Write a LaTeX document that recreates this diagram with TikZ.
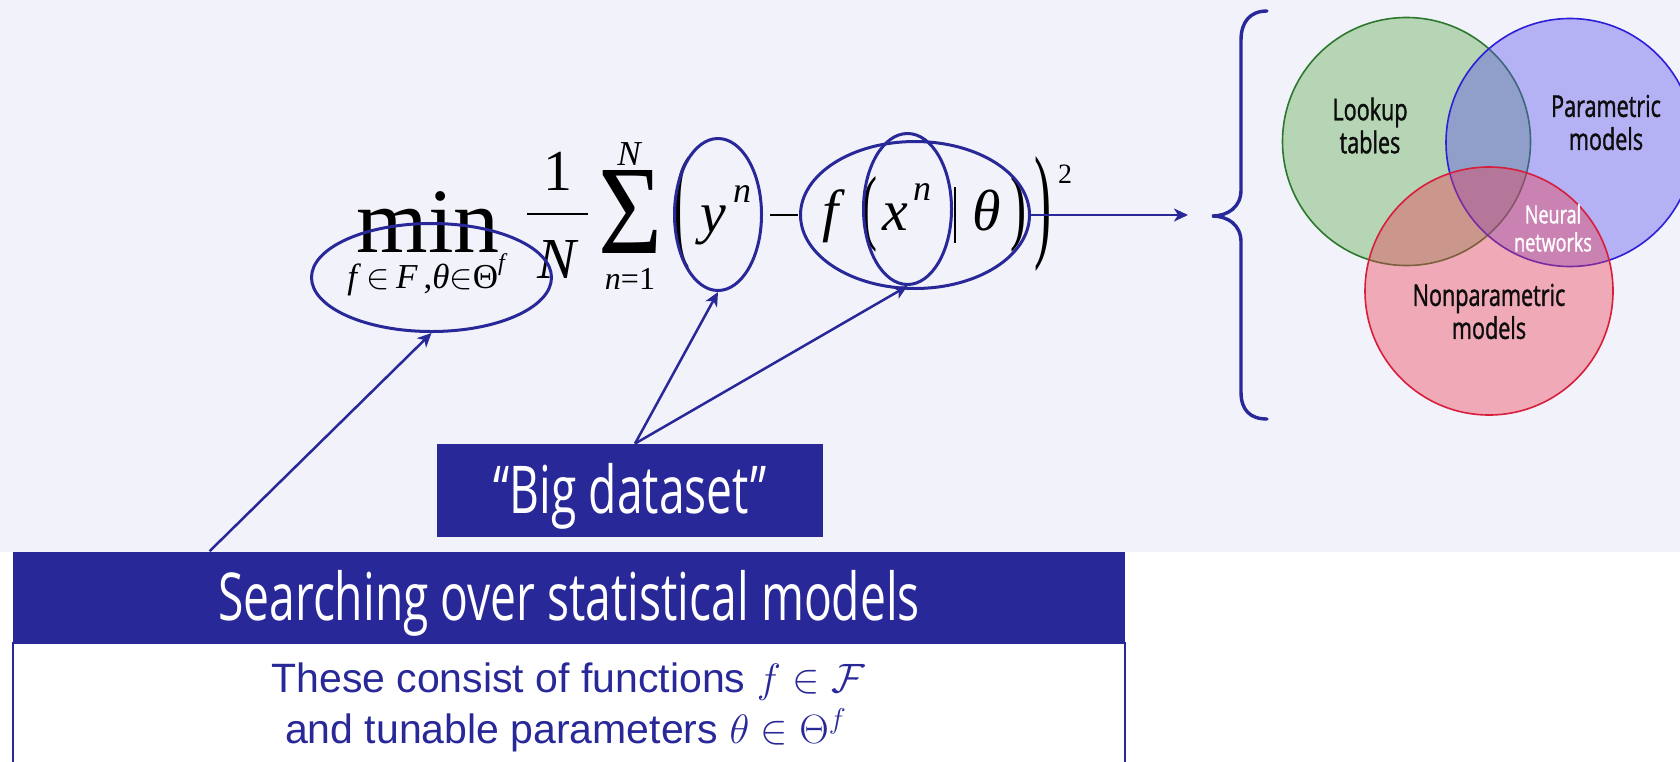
\RequirePackage{fix-cm}
\documentclass[tikz,border=0pt]{standalone}
\usepackage{graphicx}
\usepackage{fontspec}
\setmainfont{Liberation Serif}
\setsansfont{Liberation Sans}
\newfontfamily\osw[FakeStretch=0.7]{Open Sans}
\newfontfamily\oswb[FakeStretch=0.72,FakeBold=1.2]{Open Sans}
\usetikzlibrary{shapes.geometric,arrows.meta,calc}
\definecolor{dblue}{RGB}{40,40,152}
\definecolor{bgc}{RGB}{242,243,250}
\definecolor{gfill}{RGB}{90,170,75}
\definecolor{gline}{RGB}{46,120,46}
\definecolor{bfill}{RGB}{87,80,237}
\definecolor{bline}{RGB}{45,30,215}
\definecolor{rfill}{RGB}{237,60,80}
\definecolor{rline}{RGB}{215,30,60}
\tikzset{
  ring/.style={ellipse, draw=dblue, line width=1.5pt, inner sep=0pt},
  arr/.style={draw=dblue, line width=1.25pt, -{Stealth[length=7pt,width=6.5pt,inset=2pt]}},
  vc/.style={circle, minimum size=124pt, inner sep=0pt, fill opacity=0.4, line width=0.8pt},
  vtext/.style={font=\oswb\fontsize{15}{16.5}\selectfont, align=center, text=black!95},
  fm/.style={inner sep=0pt, outer sep=0pt, text=black},
  fmain/.style={fm, anchor=base, font=\rmfamily\itshape\fontsize{29}{29}\selectfont},
  fsup/.style={fm, anchor=base, font=\rmfamily\itshape\fontsize{18}{18}\selectfont},
  bluebox/.style={fill=dblue, text=white, inner sep=0pt, font=\osw\fontsize{33}{33}\selectfont},
}
\begin{document}
\begin{tikzpicture}[x=0.5pt,y=-0.5pt]
\useasboundingbox (0,0) rectangle (1680,761);
\clip (0,0) rectangle (1680,761);
\fill[white] (0,0) rectangle (1680,761);
\fill[bgc] (0,0) rectangle (1680,552);

% ---------- formula ----------
\node[fm, anchor=base, font=\rmfamily\fontsize{46}{46}\selectfont] (mn) at (428,252) {min};
\node[fm, anchor=base, font=\rmfamily\fontsize{17.5}{17.5}\selectfont] (sub) at (426,288)
  {\textit{f}\,$\in$\,\textit{F}\,,\textit{θ}$\in$Θ\raisebox{0.5em}{\fontsize{12}{12}\selectfont\itshape f}};
\node[fm, anchor=base, font=\rmfamily\fontsize{29}{29}\selectfont] (one) at (558,190) {1};
\draw[line width=1.2pt] (527,214) -- (588,214);
\node[fmain] (den) at (557,278) {N};
\node[fm] (sig) at (630,211.5) {\resizebox{32pt}{41.5pt}{\rmfamily Σ}};
\node[fm, anchor=base, font=\rmfamily\itshape\fontsize{17.5}{17.5}\selectfont] (ntop) at (629,165) {N};
\node[fm, anchor=base, font=\rmfamily\fontsize{16}{16}\selectfont] (nlow) at (630,289) {\textit{n}=1};
\node[fm] (lp1) at (682,214) {\resizebox{8.5pt}{44pt}{\rmfamily (}};
\node[fmain] (yy) at (713,232) {y};
\node[fsup] (yn) at (742,202) {n};
\draw[line width=1.2pt] (770,215) -- (798,215);
\node[fmain] (ff) at (831,230) {f};
\node[fm] (lp2) at (869,214) {\resizebox{8pt}{29pt}{\rmfamily (}};
\node[fmain] (xx) at (895,230) {x};
\node[fsup] (xn) at (922,200) {n};
\draw[line width=0.8pt] (955,187) -- (955,243);
\node[fmain] (th) at (987,230) {θ};
\node[fm] (rp2) at (1018,214) {\resizebox{8pt}{29pt}{\rmfamily )}};
\node[fm] (rp1) at (1043,214) {\resizebox{8.5pt}{44pt}{\rmfamily )}};
\node[fm, anchor=base, font=\rmfamily\fontsize{14}{14}\selectfont] (two) at (1065,183) {2};

% ---------- highlight ellipses ----------
\node[ring, minimum width=120pt, minimum height=54pt] (e1) at (431.5,277.5) {};
\node[ring, minimum width=43.5pt, minimum height=76pt] (e2) at (718,214.5) {};
\node[ring, minimum width=114.5pt, minimum height=73.5pt] (e3) at (915,215) {};
\node[ring, minimum width=44pt, minimum height=75.5pt] (e4) at (907.5,209) {};

% ---------- boxes ----------
\node[draw=dblue, fill=white, line width=0.8pt, minimum width=556pt, minimum height=70pt,
      inner sep=0pt, anchor=north] (body) at (569,642) {};
\node[bluebox, minimum width=556pt, minimum height=45pt, text height=23.5pt, text depth=0pt,
      anchor=south] (hdr) at (body.north) {Searching over statistical models};
\node[fm, anchor=base, text=dblue, font=\sffamily\fontsize{20.5}{20.5}\selectfont] (bt1) at (568,692)
  {These consist of functions $f \in \mathcal{F}$};
\node[fm, anchor=base, text=dblue, font=\sffamily\fontsize{20.5}{20.5}\selectfont] (bt2) at (566,743)
  {and tunable parameters $\theta \in \Theta^{f}$};
\node[bluebox, minimum width=193pt, minimum height=46.5pt, text height=22.5pt, text depth=0pt] (bd)
  at (630,490.5) {“Big dataset”};

% ---------- connectors ----------
\coordinate (hdrtop) at ($(hdr.north west)+(197,0)$);
\coordinate (bdtop) at ($(bd.north)+(5,0)$);
\coordinate (arrowend) at (1188,215);
\draw[arr] (hdrtop) -- (e1.south);
\draw[arr] (bdtop) -- (e2.south);
\draw[arr] (bdtop) -- (e4.south);
\draw[arr] (e3.east) -- (arrowend);

% ---------- brace ----------
\draw[dblue, line width=1.7pt, line cap=round]
  (1267,11) .. controls (1250,11) and (1241,22) .. (1241,40) -- (1241,190)
  .. controls (1241,207) and (1228,216) .. (1212,216)
  .. controls (1228,216) and (1241,225) .. (1241,242) -- (1241,392)
  .. controls (1241,410) and (1250,419) .. (1267,419);

% ---------- Venn diagram ----------
\node[vc, fill=gfill, draw=gline] (lk) at (1406.5,141.5) {};
\node[vc, fill=bfill, draw=bline] (pm) at (1570,142.5) {};
\node[vc, fill=rfill, draw=rline] (np) at (1489,291) {};
\node[vtext] (t1) at (1370,125.5) {Lookup\\tables};
\node[vtext] (t2) at (1606,122.5) {Parametric\\models};
\node[vtext] (t3) at (1489,311.5) {Nonparametric\\models};
\node[vtext, text=white, font=\oswb\fontsize{12.5}{14}\selectfont] (t4) at (1553,228) {Neural\\networks};
\end{tikzpicture}
\end{document}
